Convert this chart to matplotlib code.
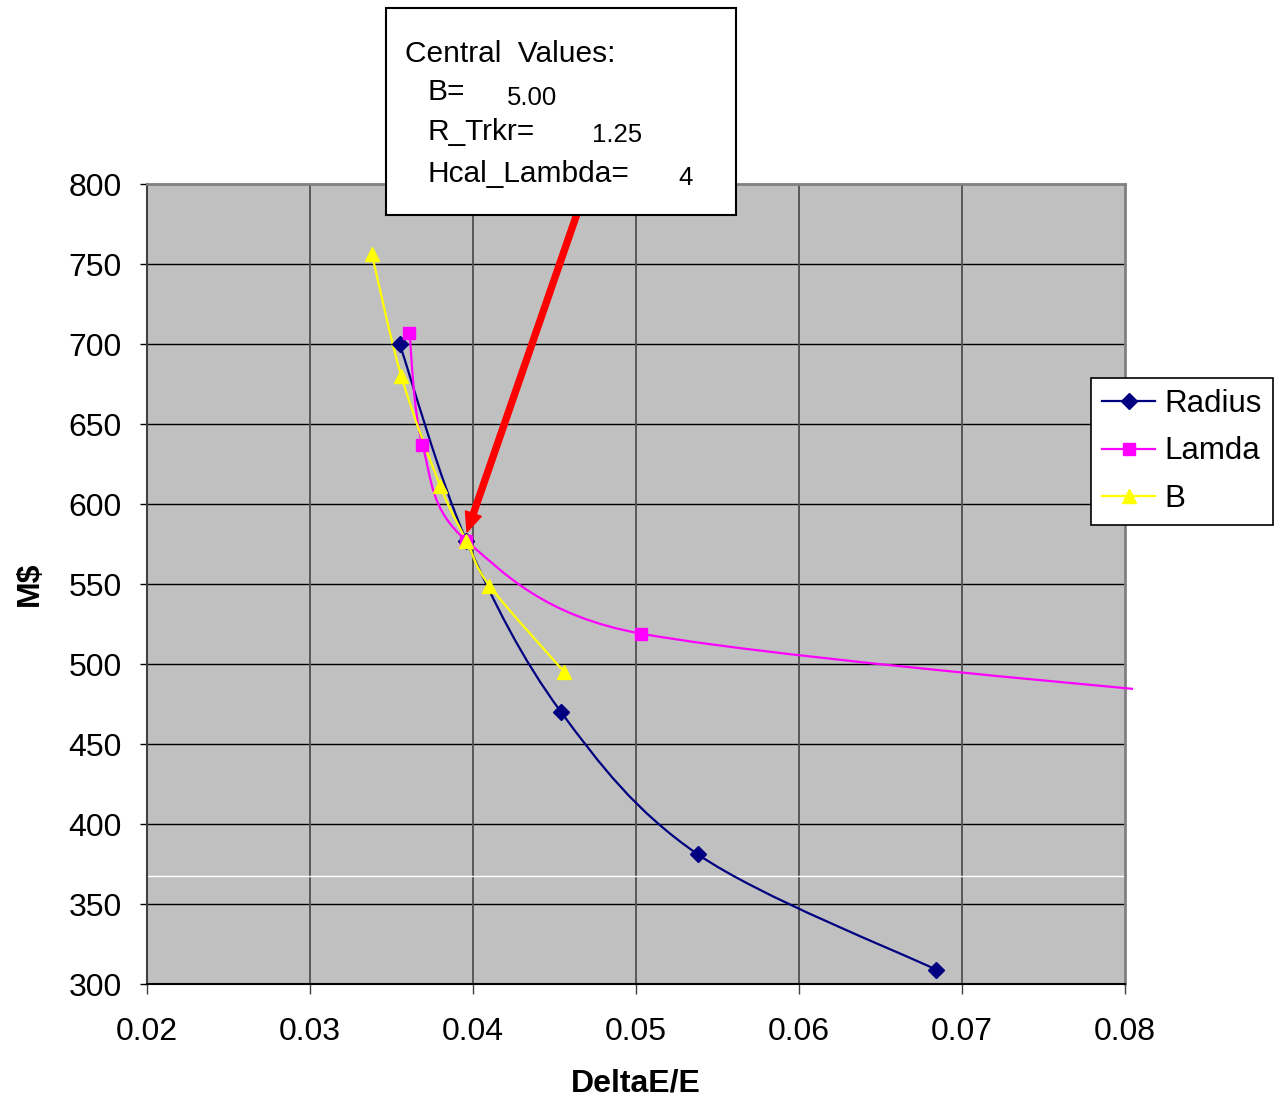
import numpy as np
import matplotlib
matplotlib.use('Agg')
import matplotlib.pyplot as plt
from matplotlib.path import Path
from matplotlib.patches import PathPatch, Rectangle
from matplotlib.lines import Line2D

plt.rcParams['font.family'] = ['Liberation Sans', 'DejaVu Sans']

# data
radius_x = [0.0355, 0.0396, 0.0454, 0.0538, 0.0684]
radius_y = [700, 577, 470, 381, 309]
lamda_x = [0.0361, 0.0369, 0.0396, 0.0503, 0.1000]
lamda_y = [707, 637, 577, 519, 466]
b_x = [0.0338, 0.0356, 0.0380, 0.0396, 0.0410, 0.0456]
b_y = [756, 680, 611, 577, 549, 495]

box_lines = ['B=', 'R_Trkr=', 'Hcal_Lambda=']
box_values = ['5.00', '1.25', '4']

W, H = 1281, 1105
fig = plt.figure(figsize=(W / 100, H / 100), dpi=100)

def fx(x):
    return x / W

def fy(y):
    return 1 - y / H

ax = fig.add_axes([fx(147), fy(984), (1125 - 147) / W, 800 / H])
ax.set_facecolor('#c0c0c0')
ax.set_xlim(0.02, 0.08)
ax.set_ylim(300, 800)

# pixels per data unit, smoothing is done in screen space like excel does
sx = (1125 - 147) / 0.06
sy = 800 / 500.0


def smooth_path(xs, ys):
    p = np.column_stack([np.array(xs) * sx, np.array(ys) * sy])
    n = len(p)
    verts = [p[0]]
    codes = [Path.MOVETO]
    for i in range(n - 1):
        p0 = p[i - 1] if i > 0 else p[i]
        p3 = p[i + 2] if i + 2 < n else p[i + 1]
        seg = np.hypot(*(p[i + 1] - p[i]))
        d1 = (p[i + 1] - p0) / 6
        d2 = (p3 - p[i]) / 6
        # keep handles shorter than half the segment
        for d in (d1, d2):
            l = np.hypot(*d)
            if l > seg / 2:
                d *= seg / 2 / l
        verts += [p[i] + d1, p[i + 1] - d2, p[i + 1]]
        codes += [Path.CURVE4] * 3
    verts = np.array(verts) / [sx, sy]
    return Path(verts, codes)


series = [
    ('Radius', radius_x, radius_y, '#000080', 'D', 8.5),
    ('Lamda', lamda_x, lamda_y, '#ff00ff', 's', 8.5),
    ('B', b_x, b_y, '#ffff00', '^', 10),
]

clip = Rectangle((0, 0), 1.008, 1, transform=ax.transAxes, visible=False)
ax.add_patch(clip)
handles = []
for name, xs, ys, col, mk, ms in series:
    patch = PathPatch(smooth_path(xs, ys), facecolor='none', edgecolor=col,
                      lw=1.6, transform=ax.transData, zorder=3)
    ax.add_patch(patch)
    patch.set_clip_path(clip)
    ax.plot(xs, ys, linestyle='none', marker=mk, ms=ms, color=col,
            markeredgecolor=col, zorder=4)
    handles.append(Line2D([], [], color=col, lw=1.6, marker=mk, ms=ms, label=name))

ax.set_xlim(0.02, 0.08)
ax.set_ylim(300, 800)
xt = np.arange(0.02, 0.0801, 0.01)
ax.set_xticks(xt)
ax.set_xticklabels(['%.2f' % v for v in xt])
ax.set_yticks(np.arange(300, 801, 50))

for v in np.arange(350, 800, 50):
    ax.axhline(v, color='black', lw=1, zorder=1)
for v in np.arange(0.03, 0.0701, 0.01):
    ax.axvline(v, color='#505050', lw=1.3, zorder=1)
ax.axhline(367.5, color='white', lw=1, zorder=1)

ax.spines['top'].set_color('#808080')
ax.spines['right'].set_color('#808080')
ax.spines['top'].set_linewidth(2)
ax.spines['right'].set_linewidth(2)
ax.spines['left'].set_color('#404040')
ax.spines['left'].set_linewidth(1.5)
ax.spines['bottom'].set_color('black')
ax.spines['bottom'].set_linewidth(1.5)

ax.tick_params(axis='y', length=5, width=1, pad=13, labelsize=23)
ax.tick_params(axis='x', length=7, width=1, color='#404040', pad=17, labelsize=23)

ax.set_ylabel('M$', fontsize=23, fontweight='bold', va='center')
ax.set_xlabel('DeltaE/E', fontsize=23, fontweight='bold', va='center')
ax.yaxis.set_label_coords(-(147 - 30) / (1125 - 147), 0.5)
ax.xaxis.set_label_coords(0.5, -(1084 - 984) / 800)

leg = fig.legend(handles=handles, loc='upper left',
                 bbox_to_anchor=(fx(1091), fy(378)), borderaxespad=0,
                 fontsize=22.5, frameon=True, fancybox=False, edgecolor='black',
                 facecolor='white', framealpha=1,
                 handlelength=1.7, handletextpad=0.3, labelspacing=0.56,
                 borderpad=0.35)
leg.get_frame().set_linewidth(1.2)
leg.set_zorder(6)

# red arrow to the central point
ax.annotate('', xy=(467, H - 532), xycoords='figure pixels',
            xytext=(580, H - 205), textcoords='figure pixels',
            arrowprops=dict(arrowstyle='simple,head_length=14,head_width=12,tail_width=4.3',
                            mutation_scale=1, color='red', shrinkA=0, shrinkB=0),
            zorder=5, annotation_clip=False)

# central values box
box = Rectangle((fx(386), fy(215)), fx(736 - 386), (215 - 8) / H,
                transform=fig.transFigure, facecolor='white', edgecolor='black',
                lw=1.5, zorder=7)
fig.add_artist(box)
fig.text(fx(405), fy(62), 'Central  Values:', fontsize=21.5, va='baseline', zorder=8)
label_y = [100, 140, 182]
value_x = [507, 592, 678]
value_y = [105, 142, 185]
for i in range(3):
    fig.text(fx(428), fy(label_y[i]), box_lines[i], fontsize=21.5, va='baseline', zorder=8)
    fig.text(fx(value_x[i]), fy(value_y[i]), box_values[i], fontsize=18.5, va='baseline', zorder=8)

fig.savefig('out.png', dpi=100)
